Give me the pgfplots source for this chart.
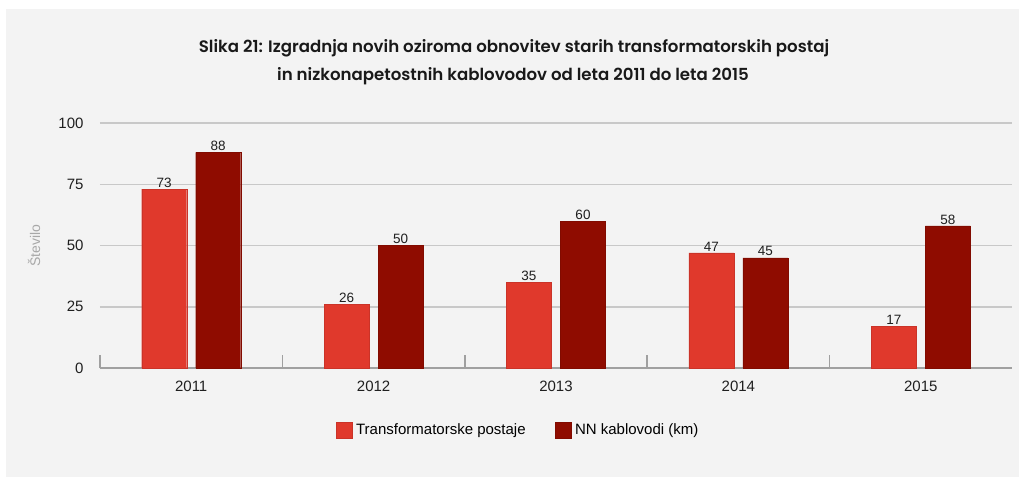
\documentclass[border=0pt]{standalone}
\usepackage{pgfplots}
\pgfplotsset{compat=1.18}
\usepackage{fontspec}
\setmainfont{Liberation Sans}
\newfontfamily\titlefont{Poppins SemiBold}
\definecolor{panel}{HTML}{F3F3F3}
\definecolor{barA}{HTML}{E0392C}
\definecolor{barB}{HTML}{8F0C00}
\definecolor{gridc}{HTML}{C8C8C8}
\definecolor{axisc}{HTML}{A0A0A0}
\definecolor{labc}{HTML}{A8A8A8}
\begin{document}
\begin{tikzpicture}
\path[use as bounding box] (0,0) rectangle (1019bp,-477bp);
\fill[white] (0,0) rectangle (1019bp,-477bp);
\fill[panel] (6bp,-9bp) rectangle (1019bp,-477bp);
\node[font=\titlefont\fontsize{16.6bp}{19bp}\selectfont, text=black!90] at (514bp,-48bp) {Slika 21: Izgradnja novih oziroma obnovitev starih transformatorskih postaj};
\node[font=\titlefont\fontsize{16.6bp}{19bp}\selectfont, text=black!90] at (513bp,-76bp) {in nizkonapetostnih kablovodov od leta 2011 do leta 2015};
\begin{axis}[
  at={(100bp,-368bp)}, anchor=south west,
  scale only axis, width=912bp, height=245bp,
  ybar=9bp, bar width=45bp,
  xmin=-0.5, xmax=4.5, ymin=0, ymax=100,
  /pgf/number format/assume math mode=true,
  xtick={0,1,2,3,4},
  xticklabels={2011,2012,2013,2014,2015},
  minor xtick={-0.5,0.5,1.5,2.5,3.5},
  major x tick style={draw=none},
  minor x tick style={draw=axisc, line width=1.5bp},
  minor tick length=13bp,
  tick align=inside,
  xtick pos=bottom,
  ytick={0,25,50,75,100},
  major y tick style={draw=none},
  ymajorgrids, major grid style={draw=gridc, line width=1.5bp},
  axis x line*=bottom, axis y line*=left,
  x axis line style={draw=axisc, line width=2bp, -},
  y axis line style={draw=none},
  tick label style={font=\fontsize{15bp}{18bp}\selectfont, text=black!88},
  xticklabel style={yshift=-9.5bp},
  yticklabel style={xshift=-13bp},
  ylabel={Število},
  ylabel style={at={(axis description cs:-0.0724,0.5)}, anchor=center, font=\fontsize{14bp}{16bp}\selectfont, text=labc},
  nodes near coords,
  every node near coord/.append style={font=\fontsize{13.5bp}{16bp}\selectfont, text=black!88, inner sep=1.5bp},
  legend style={at={(0.4595,-0.253)}, anchor=center, draw=none, fill=none,
    legend columns=2, font=\fontsize{15bp}{18bp}\selectfont,
    nodes={inner xsep=3.5bp},
    /tikz/every even column/.append style={column sep=26bp}},
  legend image code/.code={\fill[#1] (0bp,-8bp) rectangle (16bp,8bp);},
]
\addplot[fill=barA, draw=barA!90!black] coordinates {(0,73) (1,26) (2,35) (3,47) (4,17)};
\addplot[fill=barB, draw=barB!90!black] coordinates {(0,88) (1,50) (2,60) (3,45) (4,58)};
\legend{Transformatorske postaje, NN kablovodi (km)}
\end{axis}
\end{tikzpicture}
\end{document}
